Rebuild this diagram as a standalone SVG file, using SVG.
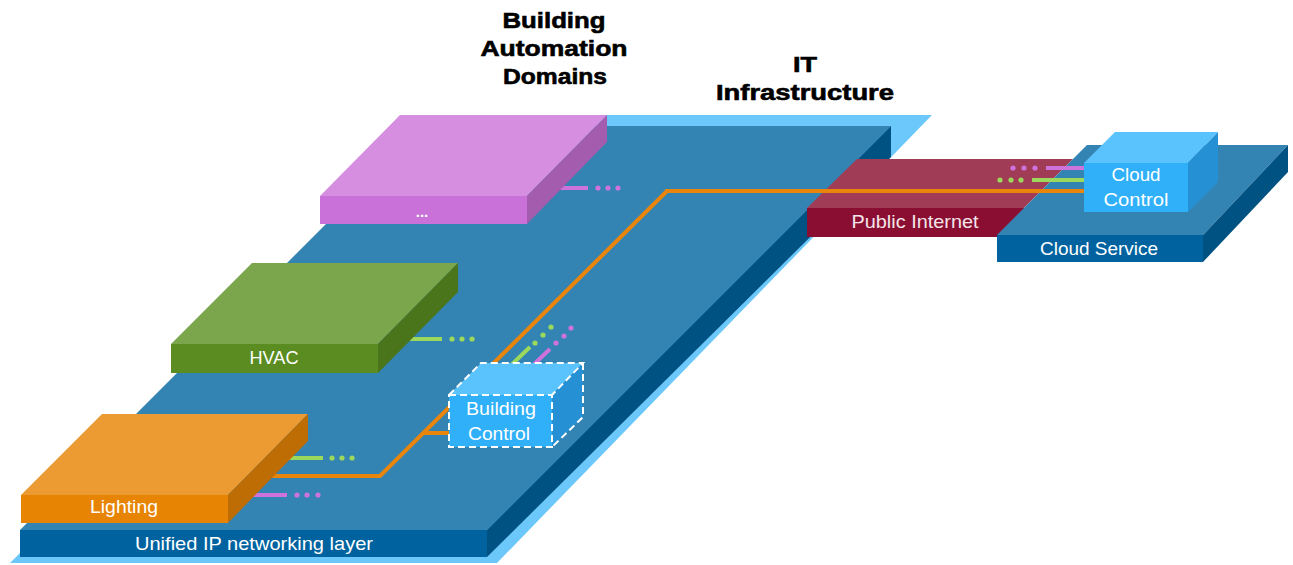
<svg xmlns="http://www.w3.org/2000/svg" width="1293" height="565" viewBox="0 0 1293 565">
<style>
.title{font-family:"Liberation Sans",Arial,sans-serif;font-weight:bold;font-size:22px;fill:#000;stroke:#000;stroke-width:0.6;text-anchor:middle}
.lbl{font-family:"Liberation Sans",Arial,sans-serif;font-size:18.5px;fill:#fff;text-anchor:middle}
.ln{stroke-width:4;fill:none}
.org{stroke:#E8850A}
.grn{stroke:#9BD85B}
.pur{stroke:#CE72DC}
.dot-g{fill:#9BD85B}
.dot-p{fill:#CE72DC}
.dash{fill:none;stroke:#fff;stroke-width:2;stroke-dasharray:7 4}
</style>
<rect width="1293" height="565" fill="#fff"/>

<g id="it-infrastructure">
  <polygon points="10,563 497,563 932,115 458,115" fill="#6CC8FA"/>
  <polygon points="20,530 487,530 891,126 424,126" fill="#3383B3"/>
  <polygon points="487,530 891,126 891,157 487,557" fill="#005282"/>
  <rect x="20" y="530" width="467" height="27" fill="#0063A0"/>
  <text class="lbl" x="254" y="550" textLength="238" lengthAdjust="spacingAndGlyphs">Unified IP networking layer</text>
</g>

<g id="titles">
  <text class="title" x="554" y="28" textLength="103" lengthAdjust="spacingAndGlyphs">Building</text>
  <text class="title" x="554" y="56" textLength="147" lengthAdjust="spacingAndGlyphs">Automation</text>
  <text class="title" x="555" y="84" textLength="104" lengthAdjust="spacingAndGlyphs">Domains</text>
  <text class="title" x="805" y="72" textLength="24" lengthAdjust="spacingAndGlyphs">IT</text>
  <text class="title" x="805" y="100" textLength="178" lengthAdjust="spacingAndGlyphs">Infrastructure</text>
</g>

<g id="connectors-under">
  <polyline class="ln org" points="270,476 380,476 667,191"/>
  <line class="ln org" x1="423" y1="433" x2="452" y2="433"/>
  <line class="ln pur" x1="555" y1="188" x2="588" y2="188"/>
  <circle class="dot-p" cx="598" cy="188" r="2.6"/><circle class="dot-p" cx="608" cy="188" r="2.6"/><circle class="dot-p" cx="618" cy="188" r="2.6"/>
  <line class="ln grn" x1="408" y1="339" x2="442" y2="339"/>
  <circle class="dot-g" cx="452" cy="339" r="2.6"/><circle class="dot-g" cx="462" cy="339" r="2.6"/><circle class="dot-g" cx="472" cy="339" r="2.6"/>
  <line class="ln grn" x1="288" y1="458" x2="323" y2="458"/>
  <circle class="dot-g" cx="332" cy="458" r="2.6"/><circle class="dot-g" cx="342" cy="458" r="2.6"/><circle class="dot-g" cx="352" cy="458" r="2.6"/>
  <line class="ln pur" x1="252" y1="495" x2="287" y2="495"/>
  <circle class="dot-p" cx="297" cy="495" r="2.6"/><circle class="dot-p" cx="307" cy="495" r="2.6"/><circle class="dot-p" cx="318" cy="495" r="2.6"/>
  <line class="ln grn" x1="508" y1="368" x2="530" y2="347"/>
  <circle class="dot-g" cx="535" cy="343" r="2.6"/><circle class="dot-g" cx="543" cy="335" r="2.6"/><circle class="dot-g" cx="551" cy="327" r="2.6"/>
  <line class="ln pur" x1="530" y1="368" x2="550" y2="349"/>
  <circle class="dot-p" cx="556" cy="343" r="2.6"/><circle class="dot-p" cx="564" cy="336" r="2.6"/><circle class="dot-p" cx="571" cy="328" r="2.6"/>
</g>

<g id="domain-other">
  <polygon points="320,196 527,196 607,115 400,115" fill="#D68FE0"/>
  <polygon points="527,196 607,115 607,142 527,224" fill="#A45CAF"/>
  <rect x="320" y="196" width="207" height="28" fill="#C971D9"/>
  <text class="lbl" x="422" y="217" style="font-size:15px;font-weight:bold">...</text>
</g>

<g id="hvac">
  <polygon points="171,344 378,344 458,263 252,263" fill="#7BA64B"/>
  <polygon points="378,344 458,263 458,292 378,373" fill="#4A751B"/>
  <rect x="171" y="344" width="207" height="29" fill="#5A8C22"/>
  <text class="lbl" x="274" y="364" textLength="49" lengthAdjust="spacingAndGlyphs">HVAC</text>
</g>

<g id="lighting">
  <polygon points="21,495 228,495 308,414 102,414" fill="#EC9B33"/>
  <polygon points="228,495 308,414 308,441 228,523" fill="#BD6D04"/>
  <rect x="21" y="495" width="207" height="28" fill="#E88403"/>
  <text class="lbl" x="124" y="513" textLength="68" lengthAdjust="spacingAndGlyphs">Lighting</text>
</g>

<g id="building-control">
  <polygon points="449,395 552,395 583,363 481,363" fill="#5AC2FC"/>
  <polygon points="552,395 583,363 583,417 552,447" fill="#2690D4"/>
  <rect x="449" y="395" width="103" height="52" fill="#2FB0F8"/>
  <polyline class="dash" points="449,395 481,363 583,363 552,395"/>
  <polyline class="dash" points="583,363 583,417 552,447"/>
  <rect class="dash" x="449" y="395" width="103" height="52"/>
  <text class="lbl" x="501" y="415" textLength="70" lengthAdjust="spacingAndGlyphs">Building</text>
  <text class="lbl" x="499" y="440" textLength="62" lengthAdjust="spacingAndGlyphs">Control</text>
</g>

<g id="public-internet">
  <polygon points="807,208 1024,208 1073,159 857,159" fill="#A03C56"/>
  <rect x="807" y="208" width="217" height="29" fill="#8A0E31"/>
  <text class="lbl" x="915" y="228" textLength="127" lengthAdjust="spacingAndGlyphs" style="fill:#F4E4E9">Public Internet</text>
</g>

<g id="cloud-service">
  <polygon points="997,235 1203,235 1288,145 1087,145" fill="#3383B3"/>
  <polygon points="1203,235 1288,145 1288,172 1203,262" fill="#005282"/>
  <rect x="997" y="235" width="206" height="27" fill="#0063A0"/>
  <text class="lbl" x="1099" y="255" textLength="118" lengthAdjust="spacingAndGlyphs">Cloud Service</text>
</g>

<g id="connectors">
  <line class="ln org" x1="665" y1="191" x2="1086" y2="191"/>
  <line class="ln pur" x1="1046" y1="168" x2="1086" y2="168"/>
  <circle class="dot-p" cx="1013" cy="168" r="2.6"/><circle class="dot-p" cx="1024" cy="168" r="2.6"/><circle class="dot-p" cx="1035" cy="168" r="2.6"/>
  <line class="ln grn" x1="1032" y1="180" x2="1086" y2="180"/>
  <circle class="dot-g" cx="1000" cy="180" r="2.6"/><circle class="dot-g" cx="1011" cy="180" r="2.6"/><circle class="dot-g" cx="1021" cy="180" r="2.6"/>
</g>

<g id="cloud-control">
  <polygon points="1084,163 1188,163 1218,132 1115,132" fill="#5AC2FC"/>
  <polygon points="1188,163 1218,132 1218,182 1188,212" fill="#2690D4"/>
  <rect x="1084" y="163" width="104" height="49" fill="#2FB0F8"/>
  <text class="lbl" x="1136" y="181" textLength="49" lengthAdjust="spacingAndGlyphs">Cloud</text>
  <text class="lbl" x="1136" y="206" textLength="65" lengthAdjust="spacingAndGlyphs">Control</text>
</g>
</svg>
